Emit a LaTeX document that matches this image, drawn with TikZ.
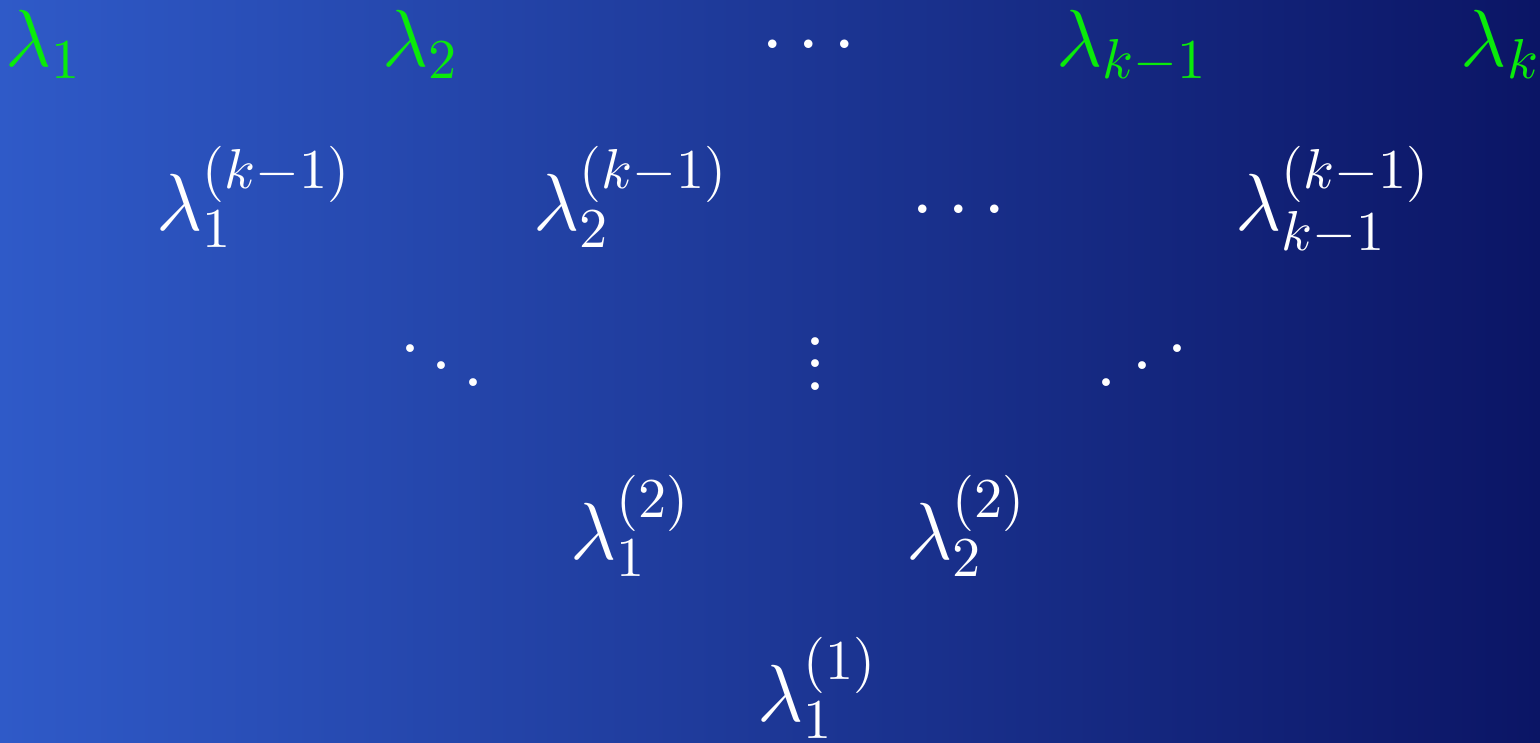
\documentclass[tikz,border=0pt]{standalone}
\usepackage{graphicx}
\definecolor{bgleft}{RGB}{47,90,200}
\definecolor{bgright}{RGB}{11,21,101}
\definecolor{lgreen}{RGB}{10,235,10}
\newcommand{\myiddots}{\mathinner{\mkern1mu.\mkern3mu\raise3pt\hbox{.}\mkern3mu\raise6pt\hbox{.}\mkern1mu}}
\begin{document}
\begin{tikzpicture}[x=0.256pt,y=-0.256pt,
  lab/.style={scale=1.44,font=\Large,text=white,anchor=base,inner sep=0pt},
  toplab/.style={lab,text=lgreen}]
\shade[left color=bgleft,right color=bgright] (0,0) rectangle (1540,742);
\useasboundingbox (0,0) rectangle (1540,742);
% top row
\node[toplab] (a1) at (44,66) {$\lambda_1$};
\node[toplab] (a2) at (421,66) {$\lambda_2$};
\node[lab] (adots) at (809,64) {$\cdots$};
\node[toplab] (ak1) at (1132,66) {$\lambda_{k-1}$};
\node[toplab] (ak) at (1501,66) {$\lambda_k$};
% second row
\node[lab] (b1) at (254,230) {$\lambda_1^{(k-1)}$};
\node[lab] (b2) at (631,230) {$\lambda_2^{(k-1)}$};
\node[lab] (bdots) at (959,229) {$\cdots$};
\node[lab] (bk1) at (1333,230) {$\lambda_{k-1}^{(k-1)}$};
% dots row
\node[lab] (c1) at (442,392) {$\ddots$};
\node[lab] (c2) at (816,390) {$\vdots$};
\node[lab] (c3) at (1142,386) {$\myiddots$};
% fourth row
\node[lab] (d1) at (631,559) {$\lambda_1^{(2)}$};
\node[lab] (d2) at (967,559) {$\lambda_2^{(2)}$};
% bottom
\node[lab] (e1) at (818,721) {$\lambda_1^{(1)}$};
\end{tikzpicture}
\end{document}
